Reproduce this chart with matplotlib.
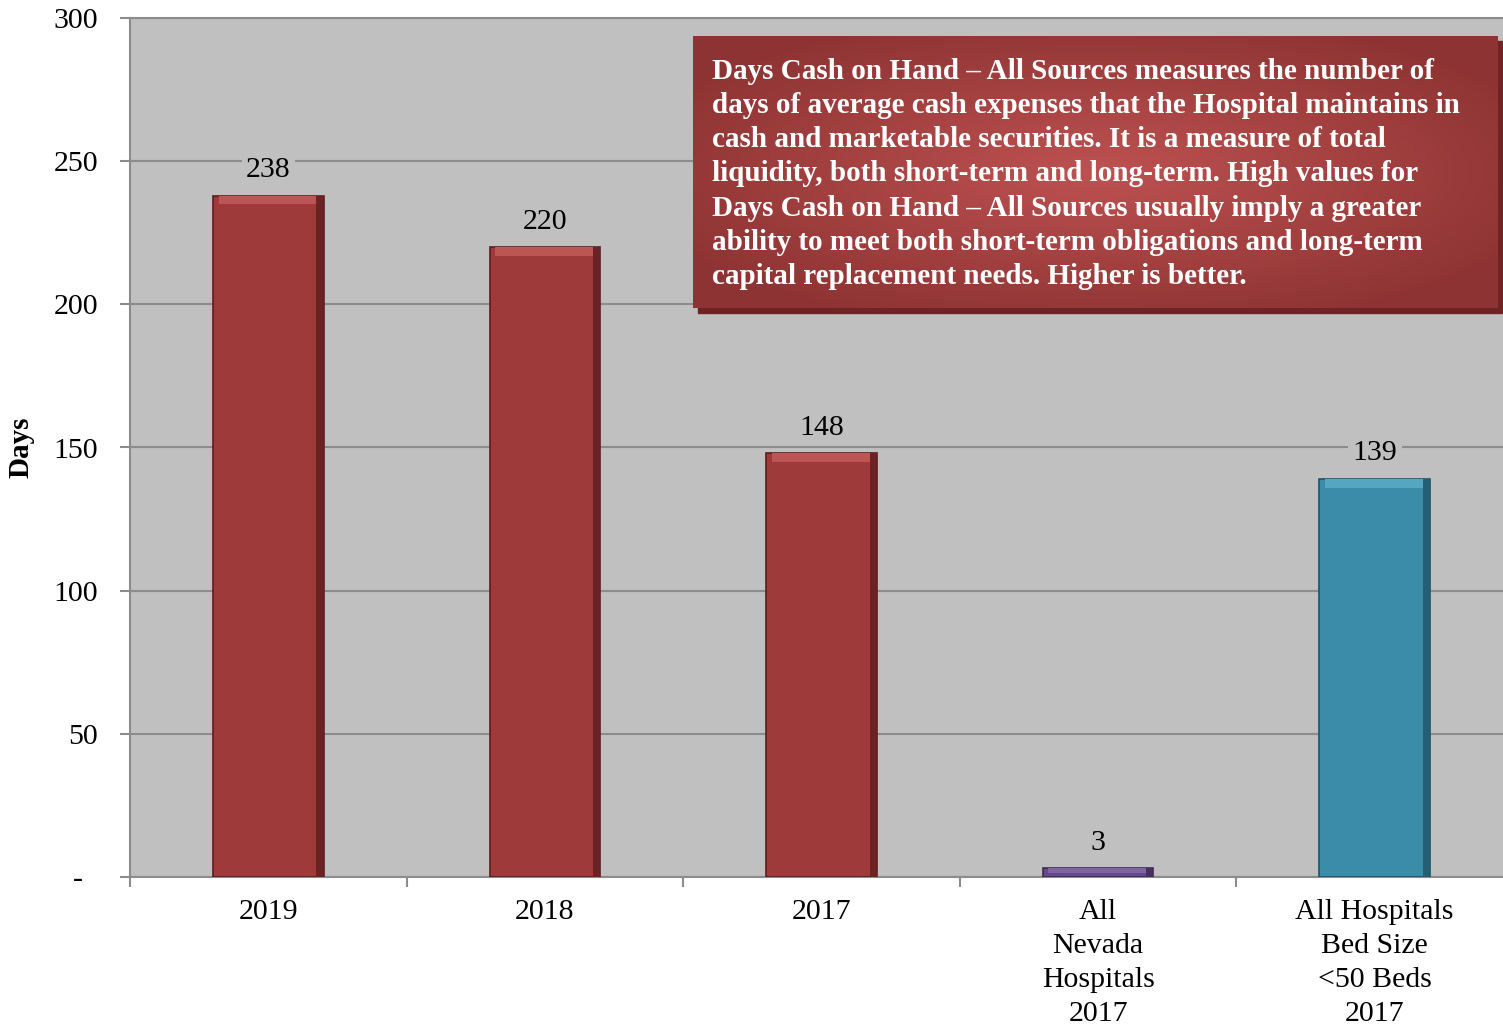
import numpy as np
import matplotlib
matplotlib.use('Agg')
import matplotlib.pyplot as plt
from matplotlib.patches import Rectangle

# chart data
categories = ['2019', '2018', '2017', 'All\nNevada\nHospitals\n2017',
              'All Hospitals\nBed Size\n<50 Beds\n2017']
days = [238, 220, 148, 3, 139]
bar_colors = ['#9e3b3a', '#9e3b3a', '#9e3b3a', '#66498a', '#3a8ca9']
edge_colors = ['#5a1e1e', '#5a1e1e', '#5a1e1e', '#3c2a52', '#1f5366']
top_colors = ['#bb5654', '#bb5654', '#bb5654', '#8063a3', '#55a6c1']
side_colors = ['#6a2222', '#6a2222', '#6a2222', '#45305e', '#245f74']
y_ticks = [0, 50, 100, 150, 200, 250, 300]
y_tick_labels = ['-  ', '50', '100', '150', '200', '250', '300']

note = ("Days Cash on Hand \u2013 All Sources measures the number of\n"
        "days of average cash expenses that the Hospital maintains in\n"
        "cash and marketable securities. It is a measure of total\n"
        "liquidity, both short-term and long-term. High values for\n"
        "Days Cash on Hand \u2013 All Sources usually imply a greater\n"
        "ability to meet both short-term obligations and long-term\n"
        "capital replacement needs. Higher is better.")

plt.rcParams['font.family'] = ['Liberation Serif', 'DejaVu Serif']

W, H = 1503, 1025
fig = plt.figure(figsize=(W / 100, H / 100), dpi=100)
fig.patch.set_facecolor('white')

# axes runs a bit past the right edge, like the original
ax = fig.add_axes([130 / W, (H - 877) / H, 1383 / W, 859 / H])
ax.set_facecolor('#c0c0c0')

x = np.arange(len(categories))
ax.bar(x, days, width=0.4, color=bar_colors, edgecolor=edge_colors,
       linewidth=1.2, zorder=3)
# bevel: lighter top strip, darker right side
cap = [min(3, v * 0.5) for v in days]
ax.bar(x, cap, bottom=[v - c for v, c in zip(days, cap)], width=0.36,
       color=top_colors, linewidth=0, zorder=4)
ax.bar(x + 0.185, days, width=0.022, color=side_colors, linewidth=0, zorder=4)

for xi, v in zip(x, days):
    ax.annotate(str(v), (xi, v), xytext=(0, 9), textcoords='offset points',
                ha='center', va='bottom', fontsize=21.5, zorder=5,
                bbox=dict(boxstyle='square,pad=0.15', fc='#c0c0c0', ec='none'))

ax.set_xlim(-0.5, 4.5)
ax.set_ylim(0, 300)
ax.set_yticks(y_ticks)
ax.set_yticklabels(y_tick_labels, fontsize=21.5)
ax.set_xticks(x)
ax.set_xticklabels(categories, fontsize=21.5, linespacing=1.4)
ax.set_xticks(np.arange(-0.5, 5, 1), minor=True)
ax.tick_params(axis='x', which='major', length=0, pad=16)
ax.tick_params(axis='x', which='minor', length=7, color='#8c8c8c', width=1.5)
ax.tick_params(axis='y', length=7, color='#8c8c8c', width=1.5, pad=16)
ax.grid(axis='y', color='#8c8c8c', linewidth=1.5, zorder=0)
ax.set_axisbelow(True)
for side in ['left', 'bottom', 'top']:
    ax.spines[side].set_color('#8c8c8c')
    ax.spines[side].set_linewidth(1.5)
ax.spines['right'].set_visible(False)

ax.set_ylabel('Days', fontsize=21, fontweight='bold')
ax.yaxis.set_label_coords(-0.069, 0.5)

# note box with a soft radial shading and drop shadow
bx0, by0, bx1, by1 = 693, 36, 1497, 308
fig.patches.append(Rectangle(((bx0 + 5) / W, (H - by1 - 5) / H), (bx1 - bx0) / W,
                             (by1 - by0) / H, transform=fig.transFigure,
                             color='#6e2424', zorder=5))
nax = fig.add_axes([bx0 / W, (H - by1) / H, (bx1 - bx0) / W, (by1 - by0) / H])
nax.set_zorder(6)
gx, gy = np.meshgrid(np.linspace(-1, 1, 200), np.linspace(-1, 1, 80))
r = np.clip(np.sqrt(gx ** 2 + gy ** 2) / 1.2, 0, 1)
c0 = np.array([0xbd, 0x52, 0x51]) / 255
c1 = np.array([0x8e, 0x33, 0x33]) / 255
img = c0[None, None, :] * (1 - r[..., None]) + c1[None, None, :] * r[..., None]
nax.imshow(img, extent=[0, 1, 0, 1], aspect='auto')
nax.set_xlim(0, 1)
nax.set_ylim(0, 1)
nax.axis('off')
nax.text((712 - bx0) / (bx1 - bx0), 1 - 22 / (by1 - by0), note, color='white',
         fontsize=21, fontweight='bold', va='top', ha='left', linespacing=1.34)

fig.savefig('out.png', dpi=100)
